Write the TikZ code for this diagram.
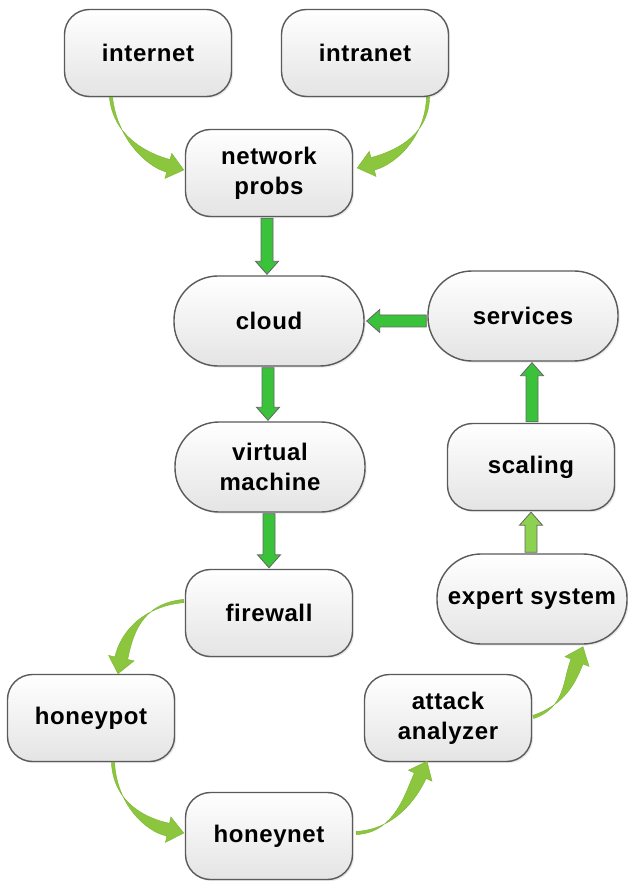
\documentclass[tikz,border=0pt]{standalone}
\usepackage{fontspec}
\setmainfont{Liberation Sans}[LetterSpace=2.5]
\usetikzlibrary{calc,shadows}
\definecolor{boxline}{HTML}{5A5A5A}
\definecolor{boxbot}{HTML}{E4E4E4}
\definecolor{arrgreen}{HTML}{3AC23A}
\definecolor{arrlight}{HTML}{8CD150}
\definecolor{curvegreen}{HTML}{8CC63F}
\definecolor{curvedark}{HTML}{7AB52E}
\tikzset{
  box/.style={draw=boxline, line width=0.7pt, rounded corners=12.5pt,
    top color=white, bottom color=boxbot, minimum width=83.5pt, minimum height=43.5pt,
    align=center, font=\fontsize{12}{15}\selectfont\bfseries,
    drop shadow={shadow xshift=0.8pt, shadow yshift=-0.8pt, opacity=0.18}},
  pill/.style={box, rounded corners=22pt, minimum width=95pt, minimum height=45pt},
  blockarrow/.style={fill=arrgreen, draw=gray!80!black, line width=0.4pt},
  curvearrow/.style={fill=curvegreen, draw=curvedark, line width=0.2pt}
}
% straight block arrow from #2 to #3
\newcommand{\blockarr}[3][]{%
  \coordinate (ba-s) at (#2);
  \coordinate (ba-e) at (#3);
  \coordinate (ba-h) at ($(ba-e)!6.5pt!(ba-s)$);
  \filldraw[blockarrow,#1] ($(ba-s)!3pt!90:(ba-e)$) -- ($(ba-h)!3pt!-90:(ba-s)$)
    -- ($(ba-h)!5.75pt!-90:(ba-s)$) -- (ba-e) -- ($(ba-h)!5.75pt!90:(ba-s)$)
    -- ($(ba-h)!3pt!90:(ba-s)$) -- ($(ba-s)!3pt!-90:(ba-e)$) -- cycle;
}
% tapered curved arrow: #1 start, #2 first control, #3 tip, #4 arrival angle (px space, y down)
\newcommand{\curvarr}[4]{%
  \coordinate (ca-s) at (#1);
  \coordinate (ca-c) at (#2);
  \coordinate (ca-e) at (#3);
  \coordinate (ca-h) at ($(ca-e)+(#4+180:16)$);
  \filldraw[curvearrow] ($(ca-s)!0.8pt!90:(ca-c)$) .. controls ($(ca-c)!0.8pt!-90:(ca-s)$) and ($(ca-h)+(#4+90:6.5)+(#4+180:22)$)
    .. ($(ca-h)+(#4+90:6.5)$) -- ($(ca-h)+(#4+90:13)$) -- (ca-e)
    -- ($(ca-h)+(#4-90:13)$) -- ($(ca-h)+(#4-90:6.5)$)
    .. controls ($(ca-h)+(#4-90:6.5)+(#4+180:22)$) and ($(ca-c)!0.8pt!90:(ca-s)$)
    .. ($(ca-s)!0.8pt!-90:(ca-c)$) -- cycle;
}
\begin{document}
\begin{tikzpicture}[x=0.5pt,y=-0.5pt]
\useasboundingbox[fill=white] (0,0) rectangle (627,881);
% nodes
\node[box]  (internet) at (148,53)  {internet};
\node[box]  (intranet) at (365,53)  {intranet};
\node[box]  (probs)    at (269,173) {network\\probs};
\node[pill] (cloud)    at (269,321) {cloud};
\node[pill] (services) at (523,316) {services};
\node[pill] (vm)       at (270,467) {virtual\\machine};
\node[box]  (scaling)  at (531,467) {scaling};
\node[box]  (firewall) at (269,613) {firewall};
\node[pill] (expert)   at (532,599) {expert system};
\node[box]  (honeypot) at (91,718)  {honeypot};
\node[box]  (attack)   at (448,718) {attack\\analyzer};
\node[box]  (honeynet) at (269,836) {honeynet};
% straight arrows
\blockarr{$(probs.south)+(-2,1)$}{$(probs.south |- cloud.north)+(-2,-1)$}
\blockarr{$(cloud.south)+(-1,1)$}{$(cloud.south |- vm.north)+(-1,-1)$}
\blockarr{$(firewall.north |- vm.south)+(0,1)$}{$(firewall.north)+(0,-1)$}
\blockarr{$(services.west |- cloud.east)+(-1,0)$}{$(cloud.east)+(2,0)$}
\blockarr{$(scaling.north)+(1,-1)$}{$(scaling.north |- services.south)+(1,1)$}
\blockarr[fill=arrlight]{$(expert.north)+(-1,-1)$}{$(expert.north |- scaling.south)+(-1,1)$}
% curved arrows
\curvarr{$(internet.south)+(-37,0)$}{$(internet.south)+(-33,40)$}{$(probs.west)+(-1,-3)$}{15}
\curvarr{$(intranet.south)+(63,0)$}{$(intranet.south)+(62,40)$}{$(probs.east)+(4,-5)$}{165}
\curvarr{$(firewall.west)+(-1,-12)$}{$(firewall.west)+(-45,-8)$}{$(honeypot.north)+(27,0)$}{102}
\curvarr{$(honeypot.south)+(22,0)$}{$(honeypot.south)+(24,42)$}{$(honeynet.west)+(-1,-3)$}{12}
\curvarr{$(honeynet.east)+(3,-3)$}{$(honeynet.east)+(42,-5)$}{$(attack.south)+(-21,-1)$}{-65}
\curvarr{$(attack.east)+(1,-1)$}{$(attack.east)+(33,-12)$}{$(expert.south)+(51,2)$}{-68}
\end{tikzpicture}
\end{document}
